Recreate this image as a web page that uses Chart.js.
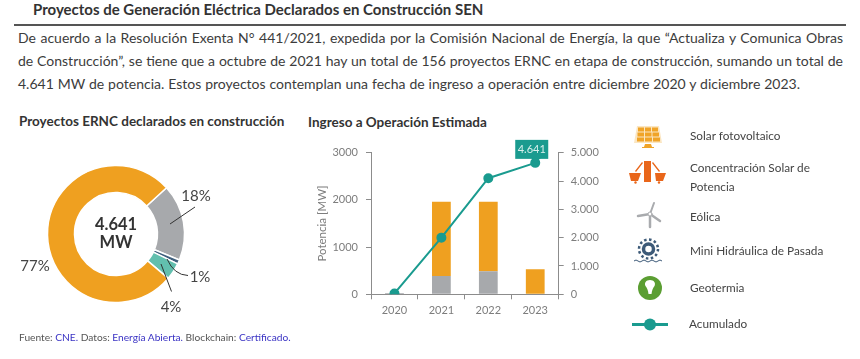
<!DOCTYPE html>
<html lang="es">
<head>
<meta charset="utf-8">
<title>Proyectos de Generación Eléctrica Declarados en Construcción SEN</title>
<script src="https://cdn.jsdelivr.net/npm/chart.js@4"></script>
<style>
html, body { margin: 0; padding: 0; background: #fff; }
body { width: 860px; height: 359px; position: relative; overflow: hidden; font-family: Lato, sans-serif; color: #3c3c3c; }
.abs { position: absolute; white-space: nowrap; }
#rule { position: absolute; left: 14px; top: 24px; width: 832px; height: 2px; background: #555; }
.line { position: absolute; left: 18px; width: 825px; font-size: 14px; line-height: 23px; height: 23px; text-align: justify; text-align-last: justify; white-space: nowrap; }
.sub { font-weight: 700; font-size: 13.5px; line-height: 18px; color: #333; }
.leg { font-size: 11.8px; line-height: 19px; color: #444; }
#foot { left: 19px; top: 330px; font-size: 10.2px; line-height: 14px; color: #555; }
#foot span { color: #3a33c4; }
canvas { position: absolute; }
svg { position: absolute; overflow: visible; }
</style>
</head>
<body>
<div class="abs" style="left:33px;top:0;font-weight:700;font-size:15px;line-height:19px;color:#333">Proyectos de Generación Eléctrica Declarados en Construcción SEN</div>
<div id="rule"></div>
<div class="line" style="top:26px">De acuerdo a la Resolución Exenta N° 441/2021, expedida por la Comisión Nacional de Energía, la que “Actualiza y Comunica Obras</div>
<div class="line" style="top:49px">de Construcción”, se tiene que a octubre de 2021 hay un total de 156 proyectos ERNC en etapa de construcción, sumando un total de</div>
<div class="line" style="top:72px;width:782px">4.641 MW de potencia. Estos proyectos contemplan una fecha de ingreso a operación entre diciembre 2020 y diciembre 2023.</div>

<div class="abs sub" style="left:19px;top:112px">Proyectos ERNC declarados en construcción</div>
<div class="abs sub" style="left:308px;top:113px">Ingreso a Operación Estimada</div>

<canvas id="donut" style="left:0;top:134px" width="232" height="200"></canvas>
<canvas id="bars" style="left:300px;top:130px" width="320" height="200"></canvas>

<!-- leyenda -->
<svg style="left:0;top:0" width="860" height="359">
  <!-- solar -->
  <g fill="#f0a428">
    <path d="M637 126h22l3 17h-28z" fill="#fbe6c2"/>
    <rect x="638" y="127.500" width="6" height="4"/><rect x="645" y="127.500" width="6" height="4"/><rect x="652" y="127.500" width="6" height="4"/>
    <rect x="637.500" y="132.500" width="6.500" height="4"/><rect x="645" y="132.500" width="6.500" height="4"/><rect x="652.500" y="132.500" width="6.500" height="4"/>
    <rect x="637" y="137.500" width="7" height="4"/><rect x="645" y="137.500" width="7" height="4"/><rect x="653" y="137.500" width="7" height="4"/>
    <path d="M645 144h6l1 3h2v0l0 1h-12v-1h2z"/>
  </g>
  <!-- concentracion solar -->
  <g fill="#e9661a">
    <rect x="644" y="161" width="7" height="21"/>
    <path d="M629 173h12l-3 8h-7zM655 173h11l-3 8h-7z"/>
    <circle cx="635.500" cy="182.500" r="1.200"/><circle cx="659" cy="182.500" r="1.200"/>
    <path d="M635 171l7-9 1 1-7 9zM660 171l-7-9-1 1 7 9z"/>
  </g>
  <!-- eolica -->
  <g stroke="#a9abae" stroke-linecap="round" fill="none">
    <path d="M650 214l4-11" stroke-width="2"/>
    <path d="M650 214l-12 2" stroke-width="2.500"/>
    <path d="M650 214l10 7" stroke-width="2.500"/>
    <path d="M650 216v11" stroke-width="2.500"/>
    <circle cx="650" cy="214" r="2" fill="#fff" stroke-width="1"/>
  </g>
  <!-- hidraulica -->
  <g>
    <circle cx="648.500" cy="249" r="5" fill="none" stroke="#3d5a78" stroke-width="3.500"/>
    <circle cx="648.500" cy="249" r="9.500" fill="none" stroke="#3d5a78" stroke-width="2.500" stroke-dasharray="2.500 2.500"/>
    <path d="M634 261q2-2 4 0t4 0t4 0t4 0t4 0t4 0t4 0" fill="none" stroke="#3d5a78" stroke-width="1"/>
  </g>
  <!-- geotermia -->
  <circle cx="650" cy="288" r="12" fill="#5b9e32"/>
  <path d="M650 280c4 0 6 3 4.500 6c-1.500 2-2.500 4-3 8h-3c-.5-4-1.500-6-3-8c-1.500-3 .5-6 4.500-6z" fill="#fff"/>
  <!-- acumulado -->
  <path d="M632 324.500h36" stroke="#1a9b8f" stroke-width="3"/>
  <circle cx="650" cy="324.500" r="6" fill="#1a9b8f"/>
</svg>
<div class="abs leg" style="left:690px;top:126px">Solar fotovoltaico</div>
<div class="abs leg" style="left:690px;top:158px">Concentración Solar de</div>
<div class="abs leg" style="left:690px;top:177px">Potencia</div>
<div class="abs leg" style="left:690px;top:207px">Eólica</div>
<div class="abs leg" style="left:690px;top:241px">Mini Hidráulica de Pasada</div>
<div class="abs leg" style="left:690px;top:278px">Geotermia</div>
<div class="abs leg" style="left:689px;top:314px">Acumulado</div>

<div id="foot" class="abs">Fuente: <span>CNE.</span> Datos: <span>Energía Abierta.</span> Blockchain: <span>Certificado.</span></div>

<script>
// donut
const techLabels = ["Eólica", "Mini Hidráulica de Pasada", "Geotermia", "Solar fotovoltaico"];
const techShares = [18, 1, 4, 77];
const shareLabels = ["18%", "1%", "4%", "77%"];
const techColors = ["#a7a9ac", "#3f5f7d", "#62bfae", "#efa020"];

// barras y linea
const years = ["2020", "2021", "2022", "2023"];
const eolicaMw = [30, 390, 490, 0];
const solarMw = [0, 1570, 1470, 530];
const acumuladoMw = [30, 2000, 4100, 4641];
const leftTicks = [0, 1000, 2000, 3000];
const rightTicks = [0, 1000, 2000, 3000, 4000, 5000];
const totalLabel = "4.641";

const axisGrey = "#8c8c8c";
const tickGrey = "#7d7d7d";
const teal = "#1a9b8f";

const donutLabels = {
    id: "donutLabels",
    afterDraw(chart) {
        const ctx = chart.ctx;
        const arc = chart.getDatasetMeta(0).data[0];
        const cx = arc.x, cy = arc.y;
        ctx.save();
        // lineas guia
        ctx.strokeStyle = "#333";
        ctx.lineWidth = 1;
        ctx.beginPath();
        ctx.moveTo(cx + 54, cy - 10);
        ctx.lineTo(cx + 79, cy - 27);
        ctx.moveTo(cx + 51, cy + 25);
        ctx.quadraticCurveTo(cx + 58, cy + 41, cx + 72, cy + 41.500);
        ctx.moveTo(cx + 45, cy + 30);
        ctx.lineTo(cx + 55.500, cy + 57.500);
        ctx.stroke();

        ctx.fillStyle = "#444";
        ctx.font = "15px Lato";
        ctx.textAlign = "center";
        ctx.textBaseline = "middle";
        const spots = [[80, -38], [84, 43.500], [55, 73], [-81, 32]];
        shareLabels.forEach(function(txt, i){
            ctx.fillText(txt, cx + spots[i][0], cy + spots[i][1]);
        });

        ctx.fillStyle = "#333";
        ctx.font = "bold 16.500px Lato";
        ctx.fillText("4.641", cx, cy - 9);
        ctx.fillText("MW", cx, cy + 9);
        ctx.restore();
    }
};

new Chart(document.getElementById("donut"), {
    type: "doughnut",
    data: {
        labels: techLabels,
        datasets: [{
            data: techShares,
            backgroundColor: techColors,
            borderColor: "#fff",
            borderWidth: 1.500
        }]
    },
    options: {
        responsive: false,
        animation: false,
        rotation: 47.500,
        radius: 68.500,
        cutout: "60.600%",
        plugins: { legend: { display: false }, tooltip: { enabled: false } }
    },
    plugins: [donutLabels]
});

const lastPointTag = {
    id: "lastPointTag",
    afterDraw(chart) {
        const ctx = chart.ctx;
        const pts = chart.getDatasetMeta(2).data;
        const p = pts[pts.length - 1];
        ctx.save();
        ctx.fillStyle = teal;
        ctx.fillRect(p.x - 20, p.y - 23, 33, 19);
        ctx.beginPath();
        ctx.moveTo(p.x - 4, p.y - 5);
        ctx.lineTo(p.x + 6, p.y - 5);
        ctx.lineTo(p.x, p.y);
        ctx.fill();
        ctx.fillStyle = "#d8f0ec";
        ctx.font = "11px Lato";
        ctx.textAlign = "center";
        ctx.textBaseline = "middle";
        ctx.fillText(totalLabel, p.x - 3.500, p.y - 13.500);
        ctx.restore();
    }
};

function fixTicks(list) {
    return function(axis){
        axis.ticks = list.map(function(v){ return {value: v}; });
    };
}

const axisFont = { family: "Lato", size: 11 };

new Chart(document.getElementById("bars"), {
    data: {
        labels: years,
        datasets: [
            { type: "bar", label: "Eólica", data: eolicaMw, backgroundColor: "#a7a9ac", stack: "mw", yAxisID: "y", order: 2 },
            { type: "bar", label: "Solar fotovoltaico", data: solarMw, backgroundColor: "#efa020", stack: "mw", yAxisID: "y", order: 2 },
            { type: "line", label: "Acumulado", data: acumuladoMw, borderColor: teal, backgroundColor: teal, borderWidth: 2,
              pointRadius: 4, pointHoverRadius: 4, yAxisID: "y2", order: 1 }
        ]
    },
    options: {
        responsive: false,
        animation: false,
        layout: { padding: { top: 22.700 } },
        datasets: { bar: { categoryPercentage: 1, barPercentage: 0.400 } },
        plugins: { legend: { display: false }, tooltip: { enabled: false } },
        scales: {
            x: {
                stacked: true,
                grid: { drawOnChartArea: false, offset: true, color: axisGrey, tickLength: 5 },
                border: { color: axisGrey },
                ticks: { color: tickGrey, font: axisFont, padding: 5, maxRotation: 0 },
                afterFit(axis) { axis.height = 35.700; }
            },
            y: {
                stacked: true,
                min: 0,
                max: 3000,
                afterBuildTicks: fixTicks(leftTicks),
                grid: { drawOnChartArea: false, color: axisGrey, tickLength: 5 },
                border: { color: axisGrey },
                ticks: {
                    color: tickGrey,
                    font: axisFont,
                    padding: 8,
                    callback: function(v){ return String(v); }
                },
                title: { display: true, text: "Potencia [MW]", color: tickGrey, font: { family: "Lato", size: 11.500 }, padding: { top: 15, bottom: 0 } },
                afterFit(axis) { axis.width = 71; }
            },
            y2: {
                position: "right",
                min: 0,
                max: 5000,
                afterBuildTicks: fixTicks(rightTicks),
                grid: { drawOnChartArea: false, color: axisGrey, tickLength: 5 },
                border: { color: axisGrey },
                ticks: {
                    color: tickGrey,
                    font: axisFont,
                    padding: 7,
                    callback: function(v){ return v === 0 ? "0" : (v / 1000) + ".000"; }
                },
                afterFit(axis) { axis.width = 61.300; }
            }
        }
    },
    plugins: [lastPointTag]
});
</script>
</body>
</html>
